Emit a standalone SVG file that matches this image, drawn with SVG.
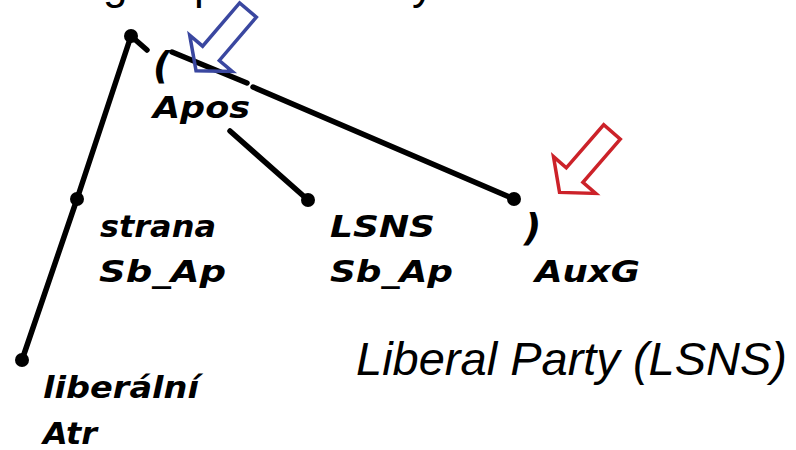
<svg xmlns="http://www.w3.org/2000/svg" width="796" height="450" viewBox="0 0 796 450">
<style>
.edge{fill:none;stroke:#000;stroke-width:5.5;stroke-linecap:round;stroke-linejoin:round}
.dot{fill:#000}
.lbl{font-family:"DejaVu Sans",Verdana,sans-serif;font-weight:bold;font-style:italic;font-size:31px;fill:#000}
.par{font-family:"DejaVu Sans",Verdana,sans-serif;font-weight:bold;font-style:italic;font-size:38px;fill:#000}
.cap{font-family:"Liberation Sans",Arial,sans-serif;font-style:italic;font-size:47px;fill:#000}
.top{font-family:"Liberation Sans",Arial,sans-serif;font-size:44px;fill:#000}
.arr{fill:none;stroke-width:3.5;stroke-linejoin:miter}
</style>
<defs>
<polygon id="hollow" points="0,-11 57,-11 57,-28 80,0 57,28 57,11 0,11"/>
</defs>
<text class="top" y="-1"><tspan x="103">g</tspan><tspan x="194">p</tspan><tspan x="412">y</tspan></text>
<g id="connectors">
<path class="edge" d="M131,36 L147,50"/>
<path class="edge" d="M172,52 L247,83 M253,87 L514,199"/>
<path class="edge" d="M230,131 L308,200"/>
<path class="edge" d="M131,36 L77,199"/>
<path class="edge" d="M77,199 L22,360"/>
</g>
<g id="node-root"><circle class="dot" cx="131" cy="36" r="7"/></g>
<g id="node-apos">
<text class="par" x="153" y="78">(</text>
<text class="lbl" x="153" y="118" textLength="97" lengthAdjust="spacingAndGlyphs">Apos</text>
</g>
<g id="node-strana">
<circle class="dot" cx="77" cy="199" r="7"/>
<text class="lbl" x="100" y="237" textLength="116" lengthAdjust="spacingAndGlyphs">strana</text>
<text class="lbl" x="99" y="282" textLength="127" lengthAdjust="spacingAndGlyphs">Sb_Ap</text>
</g>
<g id="node-liberalni">
<circle class="dot" cx="22" cy="360" r="7"/>
<text class="lbl" x="43" y="398" textLength="156" lengthAdjust="spacingAndGlyphs">liberální</text>
<text class="lbl" x="43" y="444" textLength="54" lengthAdjust="spacingAndGlyphs">Atr</text>
</g>
<g id="node-lsns">
<circle class="dot" cx="308" cy="200" r="7"/>
<text class="lbl" x="330" y="237" textLength="105" lengthAdjust="spacingAndGlyphs">LSNS</text>
<text class="lbl" x="330" y="282" textLength="123" lengthAdjust="spacingAndGlyphs">Sb_Ap</text>
</g>
<g id="node-auxg">
<circle class="dot" cx="514" cy="199" r="7"/>
<text class="par" x="524" y="240">)</text>
<text class="lbl" x="535" y="282" textLength="105" lengthAdjust="spacingAndGlyphs">AuxG</text>
</g>
<g id="blue-arrow"><use href="#hollow" class="arr" stroke="#3a47a0" transform="translate(248,10) rotate(130.5)"/></g>
<g id="red-arrow"><use href="#hollow" class="arr" stroke="#cc2229" transform="translate(612,132) rotate(131)"/></g>
<text class="cap" x="356" y="375">Liberal Party (LSNS)</text>
</svg>
